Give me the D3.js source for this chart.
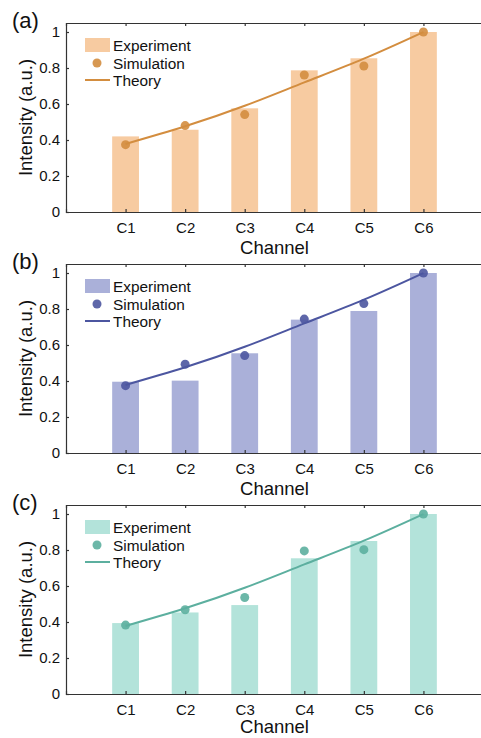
<!DOCTYPE html>
<html>
<head>
<meta charset="utf-8">
<script src="https://cdn.jsdelivr.net/npm/d3@7"></script>
<style>
  html, body { margin: 0; padding: 0; background: #fff; overflow: hidden; }
  svg { display: block; font-family: Arial, "Liberation Sans", sans-serif; }
</style>
</head>
<body>
<svg id="chart" width="481" height="738"></svg>
<script>
// Channels on the x axis.
const channels   = [ 'C1', 'C2', 'C3', 'C4', 'C5', 'C6' ];
const yTicks     = [ 0, 0.2, 0.4, 0.6, 0.8, 1 ];
const yTickText  = [ '0', '0.2', '0.4', '0.6', '0.8', '1' ];

// Panel (a).
const expA    = [ 0.420, 0.457, 0.576, 0.787, 0.854, 1.000 ];
const simA    = [ 0.374, 0.480, 0.541, 0.761, 0.811, 1.000 ];
// Panel (b).
const expB    = [ 0.396, 0.402, 0.554, 0.741, 0.789, 1.000 ];
const simB    = [ 0.374, 0.493, 0.541, 0.744, 0.830, 1.000 ];
// Panel (c).
const expC    = [ 0.394, 0.453, 0.494, 0.754, 0.850, 1.000 ];
const simC    = [ 0.383, 0.468, 0.536, 0.795, 0.802, 1.000 ];
// Theory curve, same in every panel.
const theory  = [ 0.378, 0.476, 0.590, 0.720, 0.852, 1.000 ];

const panelLabels = [ '(a)', '(b)', '(c)' ];
const barColors   = [ '#f7cba1', '#aab0d9', '#b3e3da' ];
const lineColors  = [ '#d38d3f', '#4c56a0', '#5caf9f' ];

const panels = [
  { label: panelLabels[0], exp: expA, sim: simA },
  { label: panelLabels[1], exp: expB, sim: simB },
  { label: panelLabels[2], exp: expC, sim: simC }
];

const svg    = d3.select( '#chart' );
const left   = 66;
const right  = 483;
const height = 189;
const tops   = [ 23, 264, 505 ];

const x = d3.scaleLinear( ).domain( [ 0, 7 ] ).range( [ left, right ] );
const step = x( 1 ) - x( 0 );

panels.forEach( ( p, i ) => {
  const top = tops[i];
  const y = d3.scaleLinear( ).domain( [ 0, 1.05 ] ).range( [ top + height, top ] );
  const g = svg.append( 'g' );

  // Bars.
  g.selectAll( 'rect.bar' )
    .data( p.exp )
    .enter( )
    .append( 'rect' )
    .attr( 'class', 'bar' )
    .attr( 'x', ( d, j ) => x( j + 1 ) - step * 0.225 )
    .attr( 'width', step * 0.45 )
    .attr( 'y', d => y( d ) )
    .attr( 'height', d => y( 0 ) - y( d ) )
    .attr( 'fill', barColors[i] );

  // Theory line.
  const line = d3.line( )
    .x( ( d, j ) => x( j + 1 ) )
    .y( d => y( d ) )
    .curve( d3.curveNatural );
  g.append( 'path' )
    .attr( 'd', line( theory ) )
    .attr( 'fill', 'none' )
    .attr( 'stroke', lineColors[i] )
    .attr( 'stroke-width', 2 );

  // Simulation dots.
  g.selectAll( 'circle.sim' )
    .data( p.sim )
    .enter( )
    .append( 'circle' )
    .attr( 'class', 'sim' )
    .attr( 'cx', ( d, j ) => x( j + 1 ) )
    .attr( 'cy', d => y( d ) )
    .attr( 'r', 4.5 )
    .attr( 'fill', lineColors[i] )
    .attr( 'fill-opacity', 0.9 );

  // Axes, ticks inward like MATLAB.
  const xAxis = d3.axisBottom( x )
    .tickValues( d3.range( 1, 7 ) )
    .tickFormat( d => channels[d - 1] )
    .tickSize( -3 )
    .tickPadding( 10 );
  const xTop = d3.axisTop( x )
    .tickValues( d3.range( 1, 7 ) )
    .tickFormat( '' )
    .tickSize( -3 );
  const yAxis = d3.axisLeft( y )
    .tickValues( yTicks )
    .tickFormat( ( d, k ) => yTickText[k] )
    .tickSize( -3 )
    .tickPadding( 6 );

  const axes = [
    g.append( 'g' ).attr( 'transform', `translate(0,${ top + height })` ).call( xAxis ),
    g.append( 'g' ).attr( 'transform', `translate(0,${ top })` ).call( xTop ),
    g.append( 'g' ).attr( 'transform', `translate(${ left },0)` ).call( yAxis )
  ];
  axes.forEach( a => {
    a.select( '.domain' ).attr( 'stroke', '#333' ).attr( 'stroke-width', 1.2 );
    a.selectAll( '.tick line' ).attr( 'stroke', '#333' ).attr( 'stroke-width', 1.2 );
    a.selectAll( 'text' )
      .attr( 'font-size', 15 )
      .attr( 'font-family', 'Arial, "Liberation Sans", sans-serif' )
      .attr( 'fill', '#111' );
  } );

  // Axis titles (the last one is kept inside the page).
  g.append( 'text' )
    .attr( 'x', ( left + right ) / 2 )
    .attr( 'y', Math.min( top + height + 42, 733 ) )
    .attr( 'text-anchor', 'middle' )
    .attr( 'font-size', 18.5 )
    .attr( 'fill', '#111' )
    .text( 'Channel' );
  g.append( 'text' )
    .attr( 'transform', `translate(32,${ top + height / 2 }) rotate(-90)` )
    .attr( 'text-anchor', 'middle' )
    .attr( 'font-size', 18.5 )
    .attr( 'fill', '#111' )
    .text( 'Intensity (a.u.)' );

  // Panel label.
  g.append( 'text' )
    .attr( 'x', 12 )
    .attr( 'y', top + 5 )
    .attr( 'font-size', 22 )
    .attr( 'fill', '#111' )
    .text( p.label );

  // Legend.
  const lg = g.append( 'g' ).attr( 'transform', `translate(85,${ top })` );
  lg.append( 'rect' )
    .attr( 'x', 0 ).attr( 'y', 15 )
    .attr( 'width', 25 ).attr( 'height', 14 )
    .attr( 'fill', barColors[i] );
  lg.append( 'circle' )
    .attr( 'cx', 12 ).attr( 'cy', 40 ).attr( 'r', 4.5 )
    .attr( 'fill', lineColors[i] ).attr( 'fill-opacity', 0.9 );
  lg.append( 'line' )
    .attr( 'x1', 0 ).attr( 'x2', 25 )
    .attr( 'y1', 57 ).attr( 'y2', 57 )
    .attr( 'stroke', lineColors[i] ).attr( 'stroke-width', 2 );
  [ 'Experiment', 'Simulation', 'Theory' ].forEach( ( t, k ) => {
    lg.append( 'text' )
      .attr( 'x', 28 )
      .attr( 'y', 28 + k * 17.6 )
      .attr( 'font-size', 15.4 )
      .attr( 'fill', '#111' )
      .text( t );
  } );
} );
</script>
</body>
</html>
